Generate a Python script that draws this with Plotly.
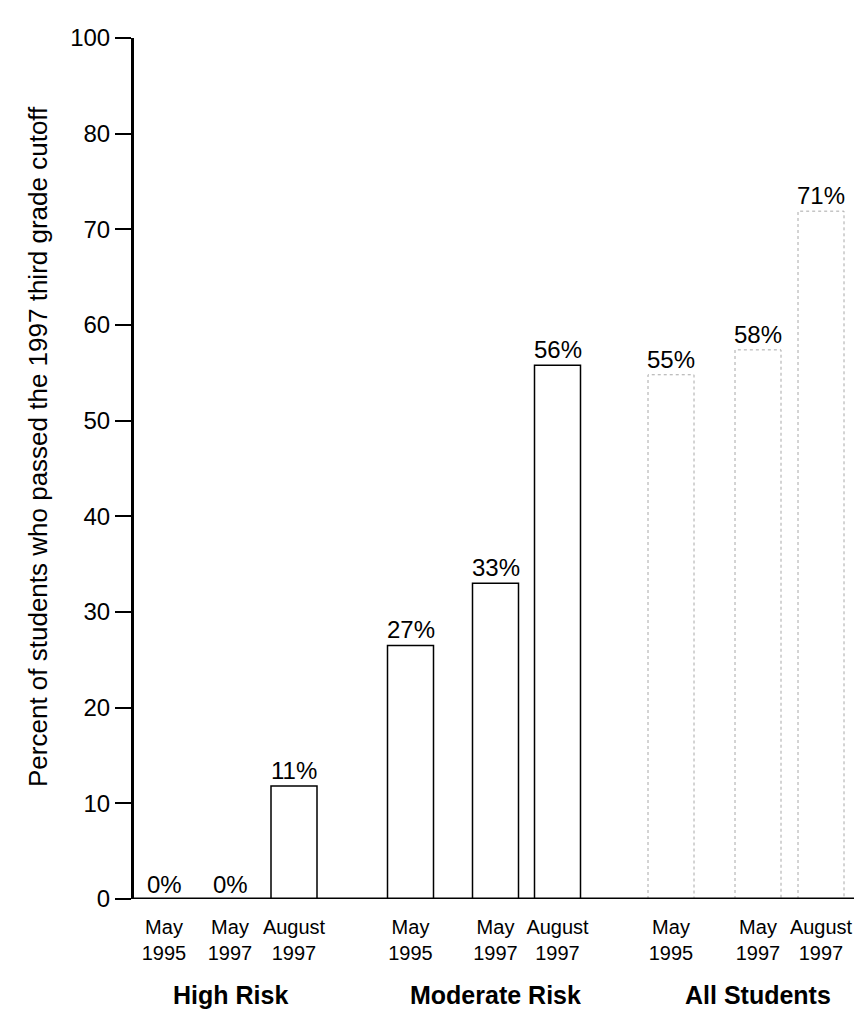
import plotly.graph_objects as go

# data
groups = ["High Risk", "Moderate Risk", "All Students"]
tests = ["May<br>1995", "May<br>1997", "August<br>1997"]
pct_labels = [0, 0, 11, 27, 33, 56, 55, 58, 71]
bar_heights = [0, 0, 11.8, 26.5, 33, 55.8, 54.8, 57.4, 71.9]
y_tickvals = [0, 10, 20, 30, 40, 50, 60, 70, 80, 90]
y_ticktext = ["0", "10", "20", "30", "40", "50", "60", "70", "80", "100"]

# layout (x axis runs in pixel-like units)
FONT = "Liberation Sans, Arial, Helvetica, sans-serif"
GROUP_END = 286      # position of the last slot in the first group
GROUP_STEP = 263.5
# slot offsets from the last slot of each group (first group is squeezed by the axis)
SLOT_OFFSET = [[-130, -64, 0], [-147, -62, 0], [-150, -63, 0]]
BAR_W = 46
X_LEFT, X_RIGHT = 126, 862

xs = [GROUP_END + g * GROUP_STEP + off
      for g in range(len(groups)) for off in SLOT_OFFSET[g]]
n_solid = 6  # high risk + moderate risk drawn solid, all students dotted

fig = go.Figure()

fig.add_trace(go.Bar(
    x=xs[:n_solid],
    y=bar_heights[:n_solid],
    width=BAR_W,
    marker=dict(color="white", line=dict(color="black", width=1.5)),
    showlegend=False,
))

# faint dotted outline bars for All Students
for xc, h in zip(xs[n_solid:], bar_heights[n_solid:]):
    fig.add_trace(go.Scatter(
        x=[xc - BAR_W / 2, xc - BAR_W / 2, xc + BAR_W / 2, xc + BAR_W / 2],
        y=[0, h, h, 0],
        mode="lines",
        line=dict(color="#a8a8a8", width=1, dash="dot"),
        showlegend=False,
        hoverinfo="skip",
    ))

for xc, h, p in zip(xs, bar_heights, pct_labels):
    fig.add_annotation(
        x=xc, y=h, text=f"{p}%", showarrow=False,
        yanchor="bottom", yshift=-1 if h == 0 else 0,
        font=dict(size=24, color="black", family=FONT),
    )

# group names under the tick labels
for g, name in enumerate(groups):
    fig.add_annotation(
        x=xs[g * 3 + 1], y=0, text=f"<b>{name}</b>", showarrow=False,
        yanchor="middle", yshift=-96, font=dict(size=25, color="black", family=FONT),
    )

# y-axis title
fig.add_annotation(
    xref="paper", yref="paper", x=-(X_LEFT - 30) / (X_RIGHT - X_LEFT), y=0.525,
    text="Percent of students who passed the 1997 third grade cutoff",
    textangle=-90, showarrow=False, xanchor="center", yanchor="middle",
    font=dict(size=26, color="black", family=FONT),
)

# baseline, extending slightly left of the y axis
fig.add_shape(type="line", x0=108, x1=X_RIGHT, y0=0, y1=0,
              line=dict(color="black", width=3))
# y axis poking below the baseline
fig.add_shape(type="line", x0=X_LEFT, x1=X_LEFT, yref="y", ysizemode="pixel",
              yanchor=0, y0=-15, y1=0, line=dict(color="black", width=3))

fig.update_layout(
    width=862, height=1009,
    margin=dict(l=X_LEFT, r=0, t=30, b=118),
    paper_bgcolor="white", plot_bgcolor="white",
    font=dict(family=FONT, color="black"),
    showlegend=False,
    xaxis=dict(
        range=[X_LEFT, X_RIGHT], showgrid=False, zeroline=False, showline=False,
        tickvals=xs, ticktext=tests * len(groups),
        ticks="outside", ticklen=10, tickcolor="white",
        tickfont=dict(size=20, family=FONT),
    ),
    yaxis=dict(
        range=[0, 90], showgrid=False, zeroline=False,
        showline=True, linecolor="black", linewidth=3,
        tickvals=y_tickvals, ticktext=y_ticktext,
        ticks="outside", ticklen=16, tickwidth=1.5, tickcolor="black",
        tickfont=dict(size=24, family=FONT),
    ),
)

fig.write_html("out.html")
